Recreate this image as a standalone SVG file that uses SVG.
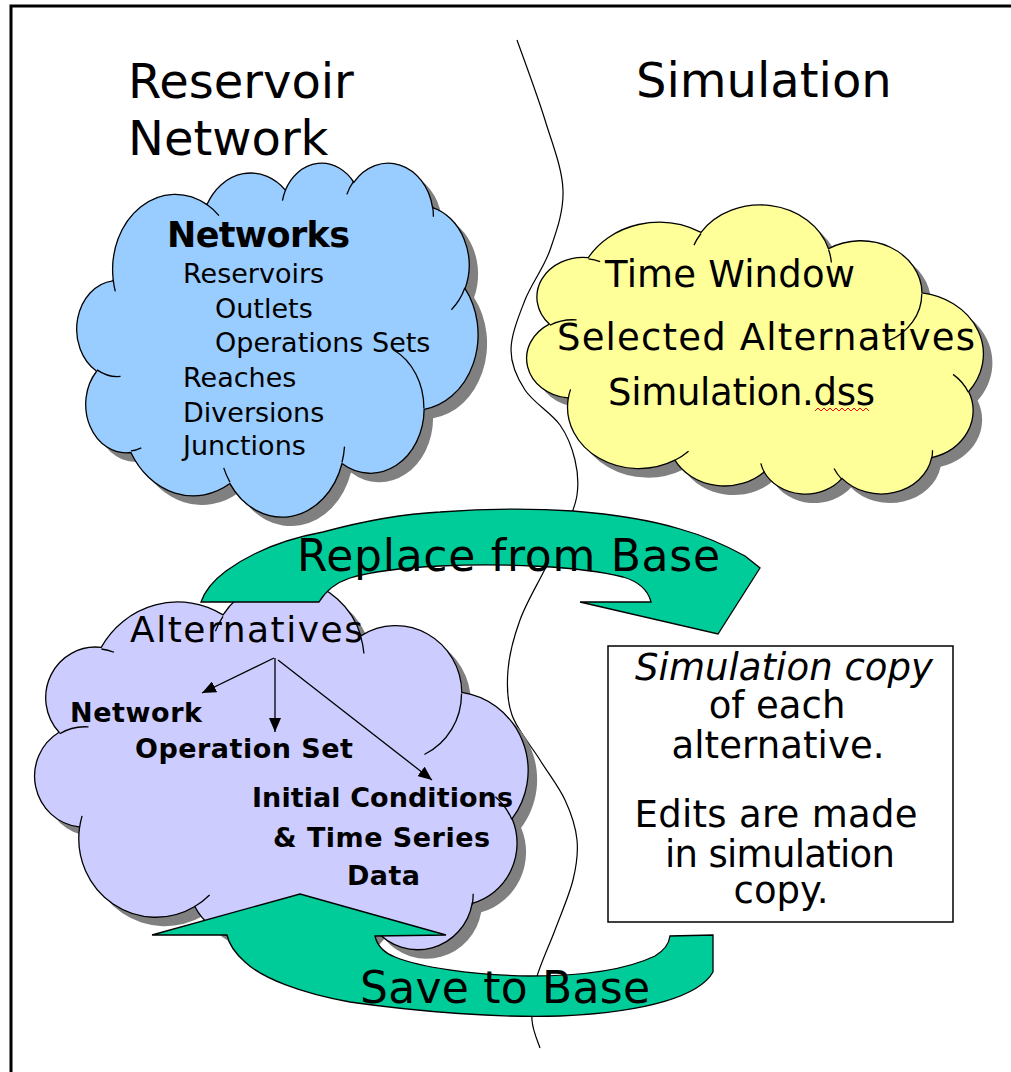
<svg xmlns="http://www.w3.org/2000/svg" xmlns:xlink="http://www.w3.org/1999/xlink" width="1011" height="1072" viewBox="0 0 1011 1072">
<style>
.hdr{font-family:"DejaVu Sans",sans-serif;font-size:48px;fill:#000}
.t{font-family:"DejaVu Sans",sans-serif;fill:#000}
.sh{fill:#808080;stroke:none}
.ol{stroke:#000;stroke-width:1.3}
.in{fill:none;stroke:#000;stroke-width:1.3}
.green{fill:#00CC99;stroke:#000;stroke-width:1.3}
.lnk{stroke:#000;stroke-width:1.3;fill:none}
</style>
<defs>
<path id="cloud" vector-effect="non-scaling-stroke" d="M3.900,14.370 A6.753,9.190 0 0 1 14.005,5.202 A5.333,7.267 0 0 1 22.456,3.433 A4.365,5.945 0 0 1 29.833,2.481 A4.857,6.595 0 0 1 38.318,5.576 A5.333,7.273 0 0 1 41.818,15.460 A6.775,9.220 0 0 1 37.404,30.203 A5.785,7.867 0 0 1 28.555,36.813 A6.752,9.215 0 0 1 16.480,39.265 A7.720,10.543 0 0 1 5.804,35.471 A4.360,5.918 0 0 1 2.113,25.551 A4.345,5.945 0 0 1 3.862,14.507 Z"/>
<path id="cloudIn" vector-effect="non-scaling-stroke" d="M4.693,26.177 A4.345,5.945 0 0 1 2.160,25.380 M6.928,34.899 A4.360,5.918 0 0 1 5.819,35.280 M16.478,39.090 A6.752,9.215 0 0 1 15.810,37.350 M28.827,34.751 A6.752,9.215 0 0 1 28.560,36.660 M34.129,22.954 A5.785,7.867 0 0 1 37.381,30.090 M41.798,15.354 A5.333,7.273 0 0 1 40.350,18.031 M38.324,5.426 A4.857,6.595 0 0 1 38.401,6.690 M29.078,3.952 A4.857,6.595 0 0 1 29.820,2.340 M22.141,4.720 A4.365,5.945 0 0 1 22.500,3.330 M14.000,5.192 A6.753,9.190 0 0 1 15.300,6.540 M4.127,15.789 A6.753,9.190 0 0 1 3.901,14.371"/>
<marker id="ah" viewBox="0 0 14 12" markerWidth="14" markerHeight="12" refX="14" refY="6" orient="auto" markerUnits="userSpaceOnUse">
<path d="M0,0 L14,6 L0,12 Z" fill="#000"/>
</marker>
</defs>
<rect width="1011" height="1072" fill="#fff"/>
<path d="M11,1072 V6 H1011" fill="none" stroke="#000" stroke-width="3"/>
<text class="hdr" x="128" y="98">Reservoir</text>
<text class="hdr" x="128" y="155">Network</text>
<text class="hdr" x="636" y="97">Simulation</text>
<g id="divider">
<path fill="none" stroke="#000" stroke-width="1.2" d="M517,40 C521.7,53.3 537.3,95 545,120 C552.7,145 562.2,168.3 563,190 C563.8,211.7 556.3,231.7 550,250 C543.7,268.3 531.5,283.3 525,300 C518.5,316.7 511,335 511,350 C511,365 516.8,377.5 525,390 C533.2,402.5 551.7,413.3 560,425 C568.3,436.7 572.2,448.3 575,460 C577.8,471.7 578.7,483.3 577,495 C575.3,506.7 570.5,517.3 565,530 C559.5,542.7 551.5,556 544,571 C536.5,586 526,603.5 520,620 C514,636.5 509.3,654.2 508,670 C506.7,685.8 506.7,700 512,715 C517.3,730 531.2,745.8 540,760 C548.8,774.2 558.8,786.7 565,800 C571.2,813.3 575.7,826.7 577,840 C578.3,853.3 576.7,865 573,880 C569.3,895 561.2,913.3 555,930 C548.8,946.7 539.8,965 536,980 C532.2,995 531.3,1008.7 532,1020 C532.7,1031.3 538.7,1043.3 540,1048"/>
</g>
<g id="networks-cloud">
<use xlink:href="#cloud" class="sh" transform="translate(86,171) scale(9.28,8.19)"/>
<use xlink:href="#cloud" class="ol" fill="#99CCFF" transform="translate(77,162) scale(9.28,8.19)"/>
<use xlink:href="#cloudIn" class="in" transform="translate(77,162) scale(9.28,8.19)"/>
<text class="t" x="167" y="247" font-size="35" font-weight="bold" textLength="183">Networks</text>
<text class="t" x="183" y="283" font-size="27">Reservoirs</text>
<text class="t" x="215" y="318" font-size="27">Outlets</text>
<text class="t" x="215" y="352" font-size="27">Operations Sets</text>
<text class="t" x="183" y="387" font-size="27">Reaches</text>
<text class="t" x="183" y="422" font-size="27">Diversions</text>
<text class="t" x="183" y="455" font-size="27">Junctions</text>
</g>
<g id="simulation-cloud">
<use xlink:href="#cloud" class="sh" transform="translate(536,504) scale(10.56,-6.69)"/>
<use xlink:href="#cloud" class="ol" fill="#FFFF99" transform="translate(527,495) scale(10.56,-6.69)"/>
<use xlink:href="#cloudIn" class="in" transform="translate(527,495) scale(10.56,-6.69)"/>
<text class="t" x="605" y="287" font-size="37" textLength="250">Time Window</text>
<text class="t" x="557" y="350" font-size="37" textLength="418">Selected Alternatives</text>
<text class="t" x="608" y="405" font-size="37" textLength="267">Simulation.dss</text>
<path d="M815,411 l3,-3 l3,3 l3,-3 l3,3 l3,-3 l3,3 l3,-3 l3,3 l3,-3 l3,3 l3,-3 l3,3 l3,-3 l3,3 l3,-3 l3,3 l3,-3 l3,3" fill="none" stroke="#FF0000" stroke-width="1"/>
</g>
<g id="alternatives-cloud">
<use xlink:href="#cloud" class="sh" transform="translate(44,960) scale(11.41,-8.56)"/>
<use xlink:href="#cloud" class="ol" fill="#CCCCFF" transform="translate(35,951) scale(11.41,-8.56)"/>
<use xlink:href="#cloudIn" class="in" transform="translate(35,951) scale(11.41,-8.56)"/>
<text class="t" x="130" y="642" font-size="36" textLength="233">Alternatives</text>
<text class="t" x="70" y="722" font-size="27" font-weight="bold" textLength="132">Network</text>
<text class="t" x="135" y="758" font-size="27" font-weight="bold" textLength="218">Operation Set</text>
<text class="t" x="252" y="807" font-size="27" font-weight="bold" textLength="261">Initial Conditions</text>
<text class="t" x="273" y="847" font-size="27" font-weight="bold" textLength="217">&amp; Time Series</text>
<text class="t" x="347" y="885" font-size="27" font-weight="bold" textLength="73">Data</text>
</g>
<g id="links">
<line class="lnk" x1="274" y1="658" x2="202" y2="693" marker-end="url(#ah)"/>
<line class="lnk" x1="275" y1="658" x2="275" y2="732" marker-end="url(#ah)"/>
<line class="lnk" x1="278" y1="660" x2="432" y2="780" marker-end="url(#ah)"/>
</g>
<g id="simulation-copy-box">
<rect x="608" y="646" width="345" height="276" fill="#fff" stroke="#000" stroke-width="1.5"/>
<text class="t" x="784" y="680" font-size="37" font-style="italic" text-anchor="middle" textLength="298">Simulation copy</text>
<text class="t" x="777" y="718" font-size="37" text-anchor="middle">of each</text>
<text class="t" x="778" y="758" font-size="37" text-anchor="middle" textLength="213">alternative.</text>
<text class="t" x="776" y="827" font-size="37" text-anchor="middle" textLength="283">Edits are made</text>
<text class="t" x="780" y="867" font-size="37" text-anchor="middle" textLength="230">in simulation</text>
<text class="t" x="781" y="903" font-size="37" text-anchor="middle">copy.</text>
</g>
<g id="replace-from-base">
<path class="green" d="M201,602 C205,590 214,580 226,571 C255,550 290,538 323,532 C360,522 400,514 440,512 C480,509 530,508 573,511 C610,514 650,520 680,529 C705,536 725,545 745,556 L760,568 L718,634 L580,602 L651,602 C648,590 640,582 623,577 C580,566 500,563 440,566 C400,568 370,572 350,578 C335,583 325,592 319,602 Z"/>
<text class="t" x="297" y="571" font-size="44" textLength="423">Replace from Base</text>
</g>
<g id="save-to-base">
<path class="green" d="M300,894 L446,935 L375,936 C377,945 382,952 395,957 C420,967 470,975 530,976 C590,976 630,968 655,956 C665,950 669,944 670,936 L713,935 L713,972 C700,995 650,1012 560,1016 C500,1018 420,1012 350,1002 C300,993 262,978 245,962 C235,953 229,945 227,935 L152,935 Z"/>
<text class="t" x="360" y="1003" font-size="44" textLength="290">Save to Base</text>
</g>
</svg>
